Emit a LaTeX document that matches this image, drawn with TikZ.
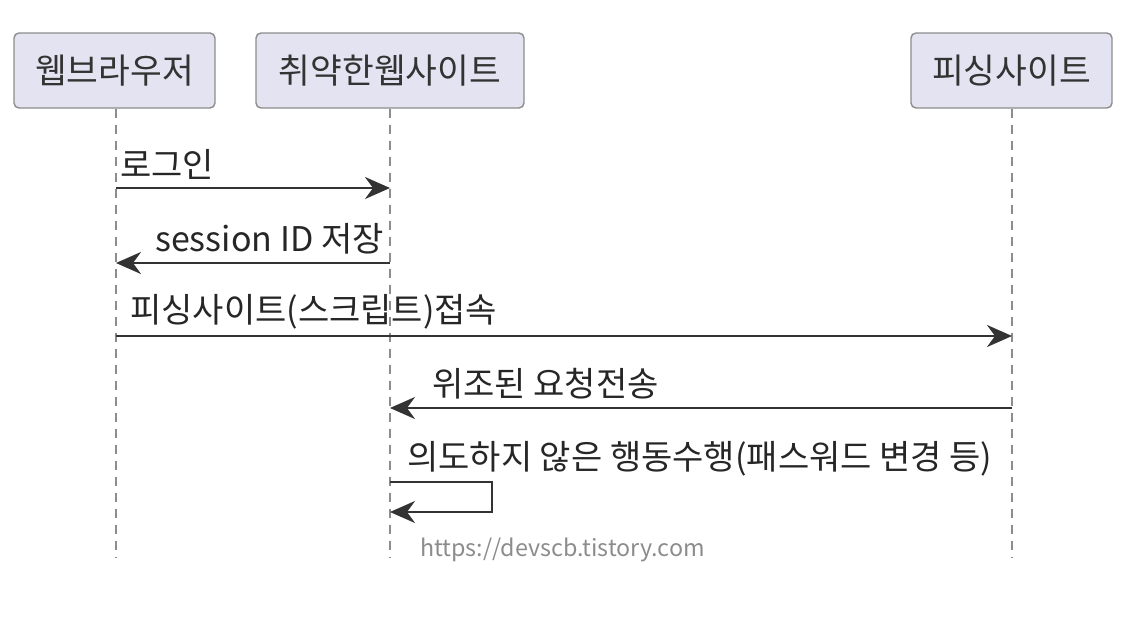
\documentclass[tikz,border=0pt]{standalone}
\usepackage{fontspec}
\usepackage{tikz}
\usetikzlibrary{arrows.meta,positioning}
\newfontfamily\kofont{Noto Sans CJK KR}
\definecolor{actorfill}{HTML}{E4E3F1}
\definecolor{actorline}{HTML}{8C8C8C}
\definecolor{msgline}{HTML}{333333}
\definecolor{lifeline}{HTML}{8C8C8C}

\begin{document}
\begin{tikzpicture}[
      x=1pt, y=-1pt,
      actor/.style={draw=actorline, line width=1.4pt, rounded corners=5pt, fill=actorfill,
        minimum height=75pt, inner sep=0pt, align=center,
        font=\kofont\fontsize{34.5}{40}\selectfont, text=black!80},
      msglabel/.style={anchor=west, inner sep=0pt,
        font=\kofont\fontsize{34}{40}\selectfont, text=black!85},
      life/.style={draw=lifeline, line width=1.3pt, dash pattern=on 9pt off 7pt},
      msg/.style={draw=msgline, line width=2.4pt,
        -{Stealth[length=25pt, width=22pt, inset=8pt]}},
      watermark/.style={inner sep=0pt, text=black!45,
        font=\kofont\fontsize{23.3}{27}\selectfont}
    ]
    \useasboundingbox (0,0) rectangle (1138,624);

    % participants
    \node[actor, minimum width=201pt] (browser) at (114.5,70.5) {웹브라우저};
    \node[actor, minimum width=268pt] (victim) at (390,70.5) {취약한웹사이트};
    \node[actor, minimum width=201pt] (phishing) at (1011.5,70.5) {피싱사이트};

    % lifelines
    \coordinate (browserEnd) at (116,557);
    \coordinate (victimEnd) at (390,557);
    \coordinate (phishingEnd) at (1012,557);
    \draw[life] (browser.south -| browserEnd) -- (browserEnd);
    \draw[life] (victim.south -| victimEnd) -- (victimEnd);
    \draw[life] (phishing.south -| phishingEnd) -- (phishingEnd);

    % message end points
    \coordinate (loginFrom) at (116,188);
    \coordinate (loginTo) at (390,188);
    \coordinate (sessionFrom) at (390,263);
    \coordinate (sessionTo) at (116,263);
    \coordinate (visitFrom) at (116,336);
    \coordinate (visitTo) at (1012,336);
    \coordinate (forgeFrom) at (1012,408);
    \coordinate (forgeTo) at (390,408);
    \coordinate (selfFrom) at (390,482);
    \coordinate (selfTo) at (390,512);

    % messages
    \node[msglabel] (loginLabel) at (120,164) {로그인};
    \draw[msg] (loginFrom) -- (loginTo);

    \node[msglabel] (sessionLabel) at (155,239) {session ID 저장};
    \draw[msg] (sessionFrom) -- (sessionTo);

    \node[msglabel] (visitLabel) at (130,312) {피싱사이트(스크립트)접속};
    \draw[msg] (visitFrom) -- (visitTo);

    \node[msglabel] (forgeLabel) at (432,384) {위조된 요청전송};
    \draw[msg] (forgeFrom) -- (forgeTo);

    \node[msglabel] (selfLabel) at (407,459) {의도하지 않은 행동수행(패스워드 변경 등)};
    \draw[msg] (selfFrom) -- ++(102,0) |- (selfTo);

    \node[watermark, anchor=west] (site) at (420,550) {https://devscb.tistory.com};
  \end{tikzpicture}
\end{document}
